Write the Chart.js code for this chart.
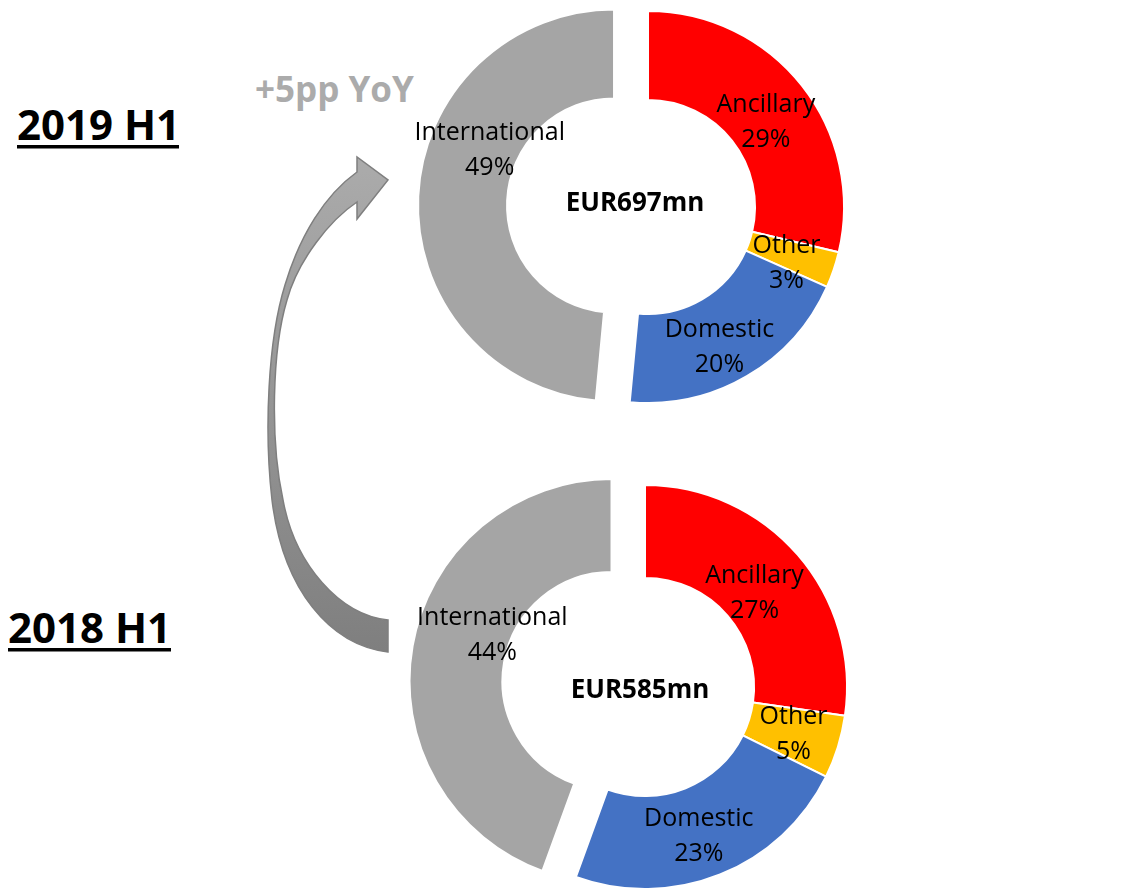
<!DOCTYPE html>
<html>
<head>
<meta charset="utf-8">
<script src="https://cdn.jsdelivr.net/npm/chart.js@4.4.1/dist/chart.umd.min.js"></script>
<style>
    body { margin: 0; width: 1140px; height: 891px; overflow: hidden; background: #fff; position: relative; }
    canvas { position: absolute; }
    svg { position: absolute; left: 0; top: 0; }
    .ttl { font-family: "Open Sans", sans-serif; font-weight: 700; }
</style>
</head>
<body>
<svg width="1140" height="891">
    <defs>
        <linearGradient id="arrowFill" gradientUnits="userSpaceOnUse" x1="0" y1="160" x2="0" y2="650">
            <stop offset="0" stop-color="#ABABAB"/>
            <stop offset="1" stop-color="#7F7F7F"/>
        </linearGradient>
    </defs>
    <path d="M388,652 C330,645 283,590 272,500 C264,430 268,340 285,285 C300,235 325,195 357,172
             L357,157 L388,180 L357,219 L357,202
             C330,220 298,260 287,300 C272,350 270,440 283,500 C295,565 340,615 388,620 Z"
          fill="url(#arrowFill)" stroke="#7F7F7F" stroke-width="1.5" stroke-linejoin="miter"/>
    <text class="ttl" x="255" y="102" font-size="35" fill="#ABABAB">+5pp YoY</text>
    <text class="ttl" x="17" y="140" font-size="42" fill="#000">2019 H1</text>
    <rect x="17" y="145" width="162" height="3.5" fill="#000"/>
    <text class="ttl" x="8" y="643" font-size="42" fill="#000">2018 H1</text>
    <rect x="8" y="648" width="163" height="3.5" fill="#000"/>
</svg>
<canvas id="donut-2019" width="480" height="414" style="left:408px;top:0px"></canvas>
<canvas id="donut-2018" width="480" height="414" style="left:405px;top:480px"></canvas>
<script>
const segments = ['Ancillary', 'Other', 'Domestic', 'International'];
const share2019 = [29, 3, 20, 49];
const share2018 = [27, 5, 23, 44];
const totals = ['EUR697mn', 'EUR585mn'];
const segmentColors = ['#FF0000', '#FFC000', '#4472C4', '#A5A5A5'];

// pulls the exploded slice away from the centre without growing it
const explodePlugin = {
    id: 'explode',
    afterDatasetUpdate(chart, args, opts) {
        args.meta.data.forEach((arc, i) => {
            let d = opts.dist[i] || 0
            if (!d) return
            let mid = (arc.startAngle + arc.endAngle) / 2
            arc.x += Math.cos(mid) * d
            arc.y += Math.sin(mid) * d
        })
    }
};

const labelPlugin = {
    id: 'sliceLabels',
    afterDatasetsDraw(chart, args, opts) {
        let ctx = chart.ctx
        let meta = chart.getDatasetMeta(0)
        let values = chart.data.datasets[0].data
        ctx.save()
        ctx.textAlign = 'center'
        ctx.textBaseline = 'middle'
        ctx.fillStyle = '#000'
        ctx.font = '25px "Open Sans"'
        meta.data.forEach((arc, i) => {
            let p = arc.getCenterPoint()
            let n = opts.nudge[i]
            let x = p.x + n[0], y = p.y + n[1]
            ctx.fillText(chart.data.labels[i], x, y - 17.5)
            ctx.fillText(`${values[i]}%`, x, y + 17.5)
        })
        let cx = (chart.chartArea.left + chart.chartArea.right) / 2
        let cy = (chart.chartArea.top + chart.chartArea.bottom) / 2
        ctx.font = 'bold 26px "Open Sans"'
        ctx.fillText(opts.total, cx + opts.totalNudge[0], cy + opts.totalNudge[1])
        ctx.restore()
    }
};

function donutConfig(values, radius, cutout, total, nudge, totalNudge) {
    return {
        type: 'doughnut',
        data: {
            labels: segments,
            datasets: [{
                data: values,
                backgroundColor: segmentColors,
                borderColor: '#FFFFFF',
                borderWidth: 2
            }]
        },
        options: {
            responsive: false,
            animation: false,
            events: [],
            radius: radius,
            cutout: cutout,
            layout: { padding: 0 },
            plugins: {
                legend: { display: false },
                tooltip: { enabled: false },
                explode: { dist: [0, 0, 0, 34] },
                sliceLabels: { nudge: nudge, total: total, totalNudge: totalNudge }
            }
        },
        plugins: [explodePlugin, labelPlugin]
    };
}

(function () {
    'use strict'
    new Chart(document.getElementById('donut-2019'),
        donutConfig(share2019, 196, '54.6%', totals[0],
            [[-1, 9], [-5, 8], [-5, 10], [27, -48]], [-13, -3]));
    new Chart(document.getElementById('donut-2018'),
        donutConfig(share2018, 202, '54%', totals[1],
            [[-8, 8], [0, 1], [-4, 5], [34, -19]], [-5, 4]));
})()
</script>
</body>
</html>
